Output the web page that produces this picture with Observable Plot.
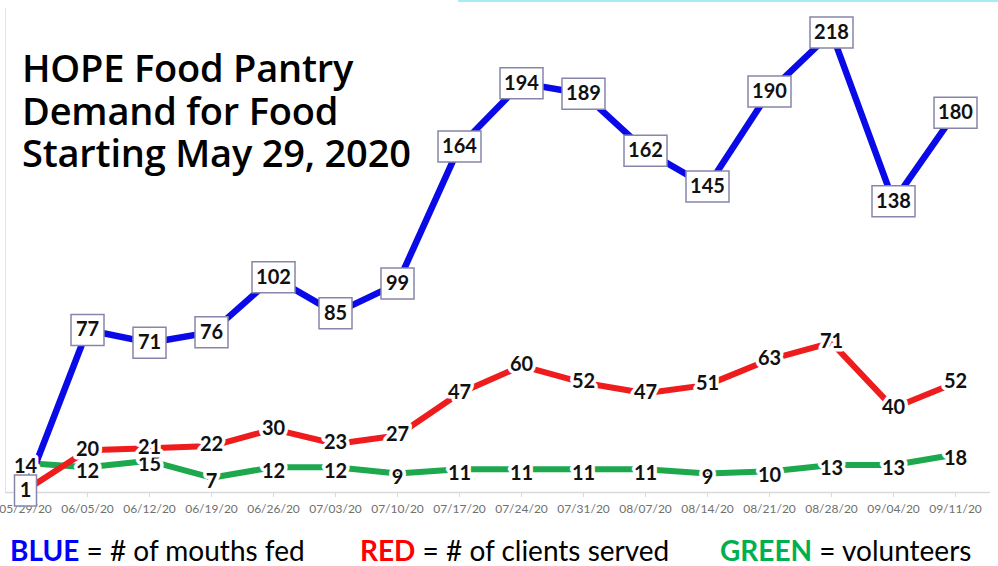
<!DOCTYPE html>
<html>
<head>
<meta charset="utf-8">
<script src="https://cdn.jsdelivr.net/npm/d3@7"></script>
<script src="https://cdn.jsdelivr.net/npm/@observablehq/plot@0.6"></script>
<style>
  html, body { margin: 0; padding: 0; background: white; }
  #wrap { position: relative; width: 998px; height: 566px; overflow: hidden; background: white; }
  #title { position: absolute; left: 22px; top: 46px; font-family: "Open Sans", sans-serif; font-weight: 600;
           font-size: 38px; line-height: 42.5px; color: #000; white-space: nowrap; letter-spacing: -0.2px; }
  .leg { position: absolute; top: 534px; font-family: "Lato", sans-serif; font-size: 28px; line-height: 1.15; color: #000; white-space: nowrap; }
  .leg b { font-weight: 700; }
  #topline { position: absolute; left: 458px; top: 0; width: 540px; height: 2px; background: #a6ecf2; }
  #leftline { position: absolute; left: 5px; top: 8px; width: 1px; height: 484px; background: #e4e4e4; }
  svg [aria-label="x-axis tick"] path { stroke: #d9d9d9; }
</style>
</head>
<body>
<div id="wrap">
  <div id="chart"></div>
  <div id="leftline"></div>
  <div id="topline"></div>
  <div id="title">HOPE Food Pantry<br>Demand for Food<br>Starting May 29, 2020</div>
  <div class="leg" style="left:10px"><b style="color:#0000ff">BLUE</b> = # of mouths fed</div>
  <div class="leg" style="left:360px"><b style="color:#ff0000">RED</b> = # of clients served</div>
  <div class="leg" style="left:720px"><b style="color:#00b050">GREEN</b> = volunteers</div>
</div>
<script>
const dates = ["05/29/20","06/05/20","06/12/20","06/19/20","06/26/20","07/03/20","07/10/20","07/17/20",
               "07/24/20","07/31/20","08/07/20","08/14/20","08/21/20","08/28/20","09/04/20","09/11/20"];
const mouthsFed     = [1, 77, 71, 76, 102, 85, 99, 164, 194, 189, 162, 145, 190, 218, 138, 180];
const clientsServed = [1, 20, 21, 22, 30, 23, 27, 47, 60, 52, 47, 51, 63, 71, 40, 52];
const volunteers    = [14, 12, 15, 7, 12, 12, 9, 11, 11, 11, 11, 9, 10, 13, 13, 18];

const blue = dates.map((d, i) => ({date: d, v: mouthsFed[i]}));
const red = dates.map((d, i) => ({date: d, v: clientsServed[i]}));
const green = dates.map((d, i) => ({date: d, v: volunteers[i]}));

function boxSymbol(w, h) {
  return { draw(context) { context.rect(-w / 2, -h / 2, w, h); } };
}
const boxW = {1: 22, 2: 33, 3: 43};

const labelFont = {fontFamily: "Lato", fontWeight: 700, fontSize: 20, fill: "#111"};

const plot = Plot.plot({
  width: 998,
  height: 530,
  marginLeft: 22,
  marginRight: 40,
  marginTop: 32,
  marginBottom: 38,
  style: {fontFamily: "Lato", fontSize: "12px", color: "#707070", background: "white", overflow: "visible"},
  x: {type: "point", domain: dates, padding: 0, label: null, tickSize: 5, tickPadding: 7},
  y: {domain: [0, 218], axis: null},
  marks: [
    Plot.ruleY([0], {stroke: "#d9d9d9", strokeWidth: 1.5, insetLeft: -17, insetRight: -32}),
    Plot.line(green, {x: "date", y: "v", stroke: "#1ea84e", strokeWidth: 6, strokeLinecap: "butt", strokeLinejoin: "miter"}),
    Plot.line(red, {x: "date", y: "v", stroke: "#ee1c1c", strokeWidth: 6, strokeLinecap: "butt", strokeLinejoin: "miter"}),
    Plot.line(blue, {x: "date", y: "v", stroke: "#0a0ae8", strokeWidth: 6.5, strokeLinecap: "butt", strokeLinejoin: "miter"}),
    Plot.text(green, {x: "date", y: "v", text: d => String(d.v), ...labelFont, dy: 4, stroke: "white", strokeWidth: 7}),
    Plot.text(red, {x: "date", y: "v", text: d => String(d.v), ...labelFont, dy: -1, stroke: "white", strokeWidth: 7}),
    ...[1, 2, 3].map(n => Plot.dot(blue.filter(d => String(d.v).length === n),
      {x: "date", y: "v", symbol: boxSymbol(boxW[n], 31), fill: "white", stroke: "#8686aa", strokeWidth: 1.5, r: 10})),
    Plot.text(blue, {x: "date", y: "v", text: d => String(d.v), ...labelFont})
  ]
});
document.getElementById("chart").appendChild(plot);
</script>
</body>
</html>
